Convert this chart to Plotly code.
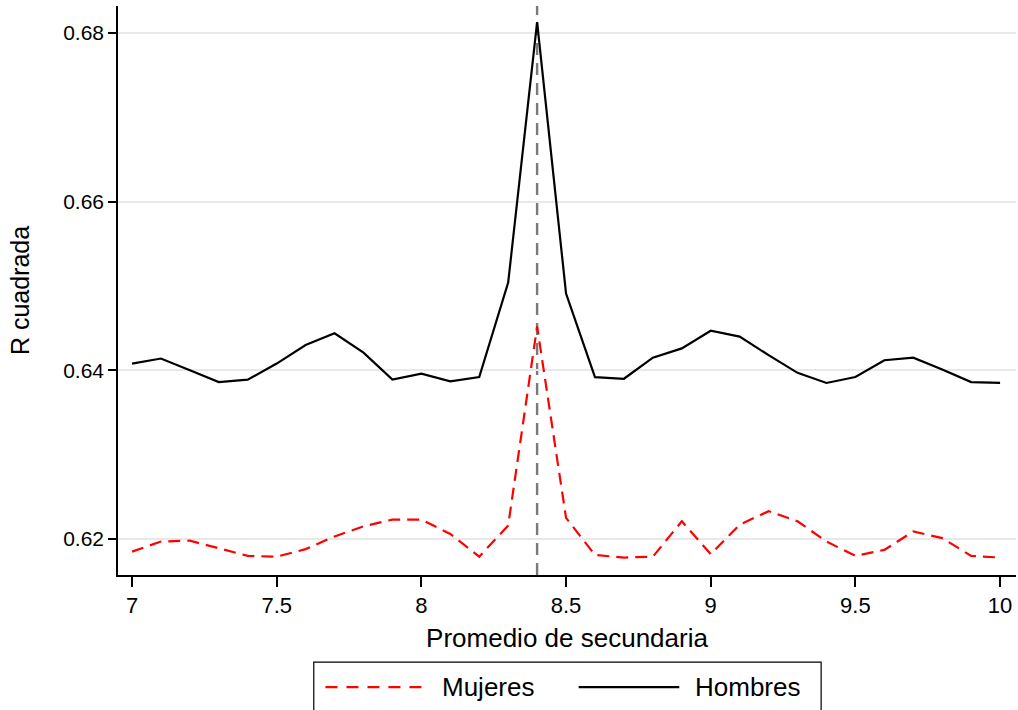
import plotly.graph_objects as go

x_vals = [7.0, 7.1, 7.2, 7.3, 7.4, 7.5, 7.6, 7.7, 7.8, 7.9, 8.0, 8.1, 8.2, 8.3, 8.4, 8.5,
          8.6, 8.7, 8.8, 8.9, 9.0, 9.1, 9.2, 9.3, 9.4, 9.5, 9.6, 9.7, 9.8, 9.9, 10.0]

mujeres = [0.6185, 0.6197, 0.6198, 0.6189, 0.6180, 0.6179, 0.6188, 0.6203, 0.6215, 0.6223,
           0.6223, 0.6206, 0.6179, 0.6216, 0.6452, 0.6225, 0.6181, 0.6178, 0.6179, 0.6221,
           0.6182, 0.6217, 0.6233, 0.6221, 0.6197, 0.6180, 0.6187, 0.6209, 0.6201, 0.6180, 0.6178]

hombres = [0.6408, 0.6414, 0.6400, 0.6386, 0.6389, 0.6408, 0.6430, 0.6444, 0.6421, 0.6389,
           0.6396, 0.6387, 0.6392, 0.6504, 0.6813, 0.6491, 0.6392, 0.6390, 0.6415, 0.6426,
           0.6447, 0.6440, 0.6418, 0.6397, 0.6385, 0.6392, 0.6412, 0.6415, 0.6401, 0.6386, 0.6385]

series_names = ["Mujeres", "Hombres"]
cutoff = 8.4
x_ticks = [7, 7.5, 8, 8.5, 9, 9.5, 10]
x_tick_labels = ["7", "7.5", "8", "8.5", "9", "9.5", "10"]
y_ticks = [0.62, 0.64, 0.66, 0.68]
y_tick_labels = ["0.62", "0.64", "0.66", "0.68"]

FONT = "Liberation Sans, Arial, Helvetica, sans-serif"

fig = go.Figure()
fig.add_trace(go.Scatter(x=x_vals, y=mujeres, mode="lines", name=series_names[0],
                         line=dict(color="#ff0000", width=2.2, dash="12px,7px"),
                         showlegend=False))
fig.add_trace(go.Scatter(x=x_vals, y=hombres, mode="lines", name=series_names[1],
                         line=dict(color="#000000", width=2.2),
                         showlegend=False))

# vertical cutoff line
fig.add_shape(type="line", xref="x", yref="paper", x0=cutoff, x1=cutoff, y0=0, y1=1,
              line=dict(color="#7a7a7a", width=2.4, dash="12px,8px"), layer="below")

# manual legend (below the plot)
fig.add_shape(type="rect", xref="paper", yref="paper", x0=0.218, x1=0.783, y0=-0.245, y1=-0.153,
              line=dict(color="#000000", width=1.2), fillcolor="white")
fig.add_shape(type="line", xref="paper", yref="paper", x0=0.231, x1=0.343, y0=-0.197, y1=-0.197,
              line=dict(color="#ff0000", width=2.2, dash="12px,9px"))
fig.add_shape(type="line", xref="paper", yref="paper", x0=0.513, x1=0.625, y0=-0.197, y1=-0.197,
              line=dict(color="#000000", width=2.2))
fig.add_annotation(xref="paper", yref="paper", x=0.359, y=-0.197, text=series_names[0],
                   showarrow=False, xanchor="left", yanchor="middle",
                   font=dict(family=FONT, size=26, color="#000000"))
fig.add_annotation(xref="paper", yref="paper", x=0.640, y=-0.197, text=series_names[1],
                   showarrow=False, xanchor="left", yanchor="middle",
                   font=dict(family=FONT, size=26, color="#000000"))

fig.update_layout(
    width=1018, height=710,
    margin=dict(l=118, r=2, t=6, b=135),
    paper_bgcolor="white", plot_bgcolor="white",
    font=dict(family=FONT, color="#000000"),
    showlegend=False,
)
fig.update_xaxes(
    range=[6.9516, 10.055], tickvals=x_ticks, ticktext=x_tick_labels,
    showgrid=False, zeroline=False,
    showline=True, linecolor="#000000", linewidth=1.5,
    ticks="outside", ticklen=10, tickwidth=1.5, tickcolor="#000000",
    tickfont=dict(family=FONT, size=22),
    title=dict(text="Promedio de secundaria", font=dict(family=FONT, size=26), standoff=12),
)
fig.update_yaxes(
    range=[0.61573, 0.6832], tickvals=y_ticks, ticktext=y_tick_labels,
    showgrid=True, gridcolor="#e8e8e8", gridwidth=2, zeroline=False,
    showline=True, linecolor="#000000", linewidth=1.5,
    ticks="outside", ticklen=8, tickwidth=1.5, tickcolor="#000000",
    tickfont=dict(family=FONT, size=21),
    title=dict(text="R cuadrada", font=dict(family=FONT, size=25), standoff=26),
)

fig.write_html("out.html")
